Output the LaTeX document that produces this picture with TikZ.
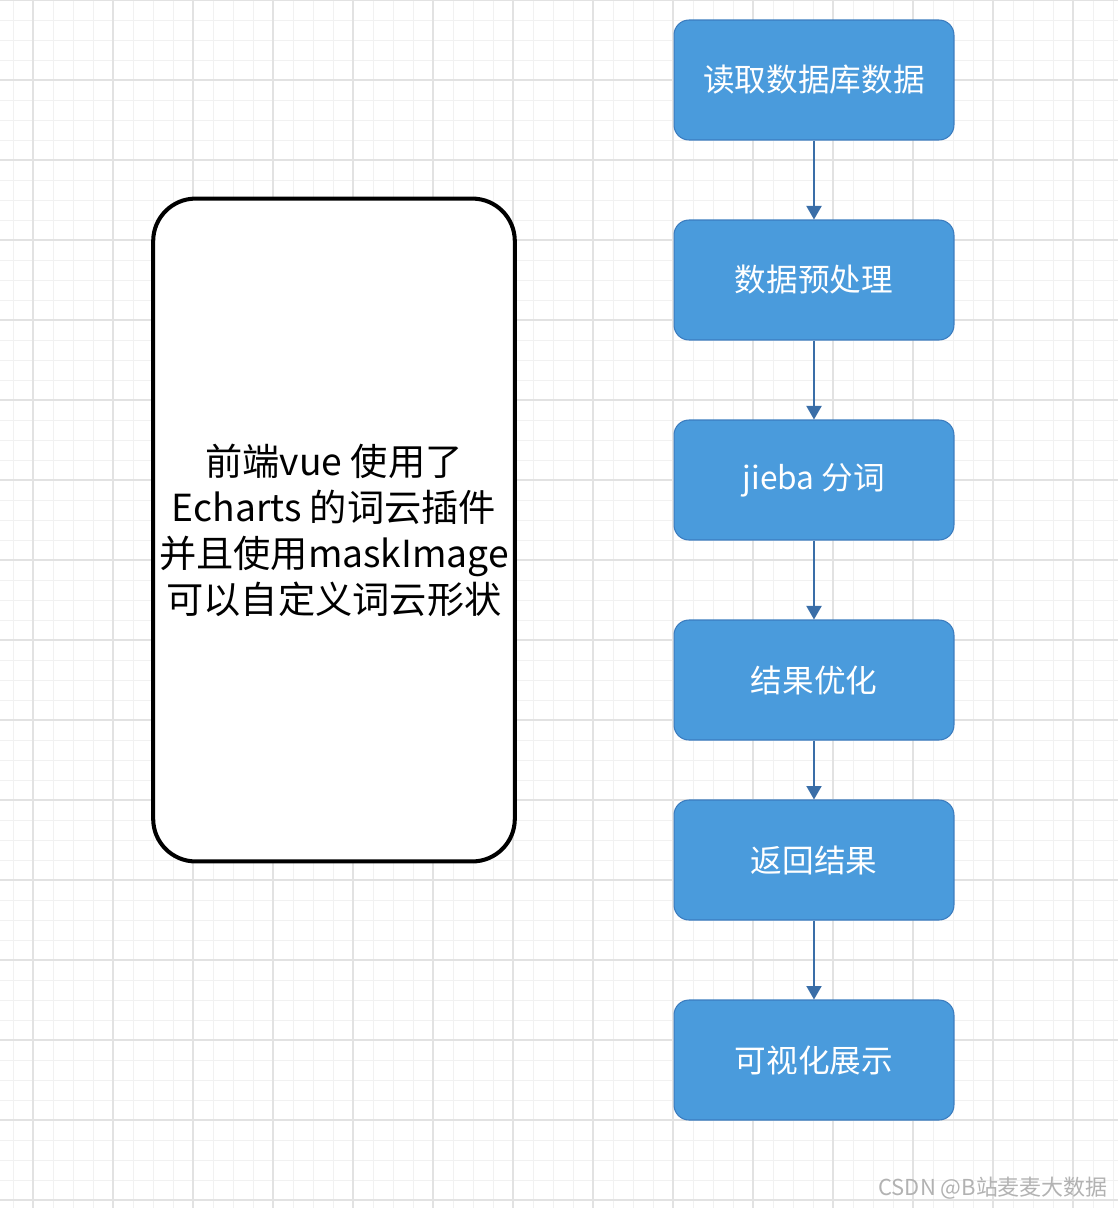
\documentclass[tikz,border=0pt]{standalone}
\usepackage{fontspec}
\setmainfont{Noto Sans CJK SC}
\usetikzlibrary{arrows.meta}
\definecolor{boxblue}{HTML}{4A9BDC}
\definecolor{boxedge}{HTML}{3B7CBF}
\definecolor{arrowblue}{HTML}{3A6EA8}
\definecolor{gridminor}{HTML}{F1F1F1}
\definecolor{gridmajor}{HTML}{E2E2E2}

\begin{document}
\begin{tikzpicture}[x=0.02cm, y=-0.02cm,
  stepbox/.style = {rectangle, rounded corners=0.3cm, draw=boxedge, line width=0.6pt,
    fill=boxblue, text=white, minimum width=5.6cm, minimum height=2.4cm,
    font=\fontsize{18}{22}\selectfont},
  flow/.style = {arrowblue, line width=1.1pt, -{Triangle[width=0.3cm, length=0.27cm]}}]
\useasboundingbox (0,0) rectangle (1118,1208);
% grid
\foreach \x in {13,33,...,1113} \draw[gridminor, line width=0.5pt] (\x,0) -- (\x,1208);
\foreach \y in {0,20,...,1200} \draw[gridminor, line width=0.5pt] (0,\y) -- (1118,\y);
\foreach \x in {33,113,...,1113} \draw[gridmajor, line width=0.8pt] (\x,0) -- (\x,1208);
\foreach \y in {0,80,...,1200} \draw[gridmajor, line width=0.8pt] (0,\y) -- (1118,\y);
% front end note
\node[draw=black, line width=2.3pt, rounded corners=0.85cm, fill=white,
  minimum width=7.08cm, minimum height=13.26cm, align=center,
  font=\fontsize{21.2}{26.2}\selectfont] (front) at (334,530)
  {前端vue 使用了\\Echarts 的词云插件\\并且使用maskImage\\可以自定义词云形状};
% pipeline
\node[stepbox] (read) at (814,80) {读取数据库数据};
\node[stepbox] (prep) at (814,280) {数据预处理};
\node[stepbox] (cut) at (814,480) {jieba 分词};
\node[stepbox] (opt) at (814,680) {结果优化};
\node[stepbox] (ret) at (814,860) {返回结果};
\node[stepbox] (show) at (814,1060) {可视化展示};
\draw[flow] (read) -- (prep);
\draw[flow] (prep) -- (cut);
\draw[flow] (cut) -- (opt);
\draw[flow] (opt) -- (ret);
\draw[flow] (ret) -- (show);
\node[anchor=east, text=black!30, font=\fontsize{12.5}{15}\selectfont] (credit) at (1114,1188) {CSDN @B站麦麦大数据};
\end{tikzpicture}
\end{document}
